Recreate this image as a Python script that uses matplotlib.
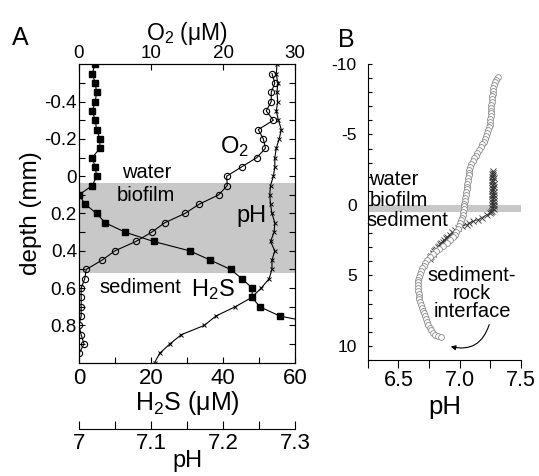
import numpy as np
import matplotlib
matplotlib.use("Agg")
import matplotlib.pyplot as plt
from matplotlib.ticker import MultipleLocator, FixedLocator

plt.rcParams["font.family"] = ["Liberation Sans", "DejaVu Sans"]
plt.rcParams["mathtext.fontset"] = "custom"
plt.rcParams["mathtext.rm"] = "Liberation Sans"
plt.rcParams["mathtext.it"] = "Liberation Sans:italic"
plt.rcParams["axes.unicode_minus"] = False

# ---- panel A: microprofiles (depth in mm) ----
h2s_depth = [-0.60, -0.55, -0.50, -0.45, -0.40, -0.35, -0.30, -0.25, -0.20, -0.15,
             -0.10, -0.05, 0.00, 0.05, 0.10, 0.15, 0.20, 0.25, 0.30, 0.35,
             0.40, 0.45, 0.50, 0.55, 0.60, 0.65, 0.70, 0.75, 0.80]
h2s = [4.4, 3.7, 4.5, 4.9, 4.5, 3.7, 4.5, 4.9, 5.8, 5.8,
       3.7, 4.5, 4.9, 3.7, 0.0, 1.7, 4.9, 7.3, 12.8, 20.7,
       30.7, 36.5, 42.1, 45.3, 48.1, 48.1, 50.2, 55.8, 69.0]

o2_depth = [-0.55, -0.50, -0.45, -0.40, -0.35, -0.30, -0.25, -0.20, -0.15, -0.10,
            -0.05, 0.00, 0.05, 0.10, 0.15, 0.20, 0.25, 0.30, 0.35, 0.40,
            0.45, 0.50, 0.55, 0.60, 0.65, 0.70, 0.75, 0.80, 0.85, 0.90, 0.95]
o2 = [26.8, 27.2, 26.7, 26.7, 26.0, 27.0, 24.9, 25.6, 25.9, 24.7,
      22.6, 20.5, 20.6, 19.4, 16.7, 14.7, 11.9, 10.1, 7.9, 5.0,
      3.2, 1.0, 0.8, 0.3, 0.3, 0.3, 0.3, 0.0, 0.3, 0.7, 0.0]

ph_depth = [-0.60, -0.55, -0.50, -0.45, -0.40, -0.35, -0.30, -0.25, -0.20, -0.15,
            -0.10, -0.05, 0.00, 0.05, 0.10, 0.15, 0.20, 0.25, 0.30, 0.35,
            0.40, 0.45, 0.50, 0.55, 0.60, 0.65, 0.70, 0.75, 0.80, 0.85,
            0.90, 0.95, 1.00]
ph = [7.275, 7.274, 7.276, 7.275, 7.276, 7.274, 7.277, 7.281, 7.278, 7.274,
      7.272, 7.272, 7.270, 7.266, 7.265, 7.266, 7.268, 7.272, 7.271, 7.266,
      7.272, 7.268, 7.268, 7.264, 7.253, 7.240, 7.217, 7.190, 7.174, 7.142,
      7.126, 7.112, 7.105]

biofilm_a = (0.035, 0.52)

# ---- panel B: pH profiles (depth in mm) ----
b_circ_depth = [-9.1, -8.9, -8.7, -8.5, -8.3, -8.1, -7.9, -7.7, -7.5, -7.3,
                -7.1, -6.9, -6.7, -6.5, -6.3, -6.1, -5.9, -5.7, -5.5, -5.3,
                -5.1, -4.9, -4.7, -4.5, -4.3, -4.1, -3.9, -3.7, -3.5, -3.3,
                -3.1, -2.9, -2.7, -2.5, -2.3, -2.1, -1.9, -1.7, -1.5, -1.3,
                -1.1, -0.9, -0.7, -0.5, -0.3, -0.1, 0.1, 0.3, 0.5, 0.7,
                0.9, 1.1, 1.3, 1.5, 1.7, 1.9, 2.1, 2.3, 2.5, 2.7,
                2.9, 3.1, 3.3, 3.5, 3.7, 3.9, 4.1, 4.3, 4.5, 4.7,
                4.9, 5.1, 5.3, 5.5, 5.7, 5.9, 6.1, 6.3, 6.5, 6.7,
                6.9, 7.1, 7.3, 7.5, 7.7, 7.9, 8.1, 8.3, 8.5, 8.7,
                8.9, 9.1, 9.2, 9.3, 9.4]
b_circ_ph = [7.31, 7.30, 7.29, 7.28, 7.275, 7.27, 7.268, 7.264, 7.262, 7.26,
             7.258, 7.256, 7.255, 7.254, 7.252, 7.25, 7.25, 7.245, 7.238, 7.23,
             7.222, 7.212, 7.203, 7.195, 7.186, 7.175, 7.16, 7.145, 7.133, 7.12,
             7.105, 7.095, 7.088, 7.08, 7.077, 7.074, 7.07, 7.067, 7.063, 7.06,
             7.056, 7.052, 7.048, 7.044, 7.041, 7.038, 7.036, 7.034, 7.031, 7.027,
             7.022, 7.012, 7.004, 6.995, 6.984, 6.972, 6.958, 6.945, 6.925, 6.895,
             6.865, 6.835, 6.81, 6.785, 6.76, 6.735, 6.72, 6.705, 6.692, 6.683,
             6.675, 6.668, 6.664, 6.662, 6.662, 6.663, 6.664, 6.666, 6.668, 6.672,
             6.676, 6.682, 6.69, 6.70, 6.71, 6.718, 6.726, 6.735, 6.744, 6.755,
             6.768, 6.785, 6.80, 6.82, 6.85]

b_x_depth = [-2.4, -2.3, -2.2, -2.1, -2.0, -1.9, -1.8, -1.7, -1.6, -1.5,
             -1.4, -1.3, -1.2, -1.1, -1.0, -0.9, -0.8, -0.7, -0.6, -0.5,
             -0.4, -0.3, -0.2, -0.1, 0.0, 0.1, 0.2, 0.3, 0.4, 0.5,
             0.55, 0.70, 0.90, 1.05, 1.16, 1.28, 1.39, 1.50, 1.63, 1.80,
             1.95, 2.10, 2.25, 2.35, 2.50, 2.60, 2.70, 2.80, 2.90, 3.00,
             3.10, 3.20, 3.30, 3.40, 3.50, 3.60, 3.70, 3.80]
b_x_ph = [7.268, 7.272, 7.264, 7.274, 7.266, 7.276, 7.265, 7.275, 7.264, 7.277,
          7.266, 7.276, 7.263, 7.275, 7.265, 7.278, 7.264, 7.276, 7.262, 7.277,
          7.265, 7.279, 7.262, 7.278, 7.264, 7.280, 7.260, 7.276, 7.262, 7.255,
          7.25, 7.22, 7.18, 7.15, 7.11, 7.08, 7.06, 7.02, 6.99, 6.96,
          6.94, 6.92, 6.90, 6.89, 6.87, 6.86, 6.85, 6.84, 6.83, 6.82,
          6.81, 6.80, 6.79, 6.785, 6.78, 6.77, 6.76, 6.755]

biofilm_b = (0.0, 0.5)

W, H = 539, 476
fig = plt.figure(figsize=(W / 100, H / 100), dpi=100)

# panel A
axA = fig.add_axes([79 / W, 1 - 362.7 / H, 216 / W, (362.7 - 64.3) / H])
axA.axhspan(*biofilm_a, color="#c8c8c8", lw=0, zorder=0)
axA.plot(h2s, h2s_depth, "k-", lw=0.8, marker="s", ms=4.5, zorder=3)
axA.set_xlim(0, 60)
axA.set_ylim(1.0, -0.6)
axA.xaxis.set_major_locator(FixedLocator([0, 20, 40, 60]))
axA.xaxis.set_minor_locator(FixedLocator([10, 30, 50]))
axA.set_yticks([-0.4, -0.2, 0, 0.2, 0.4, 0.6, 0.8])
axA.set_yticklabels(["-0.4", "-0.2", "0", "0.2", "0.4", "0.6", "0.8"])
axA.yaxis.set_minor_locator(FixedLocator([-0.5, -0.3, -0.1, 0.1, 0.3, 0.5, 0.7, 0.9]))
axA.tick_params(axis="both", which="both", direction="in", length=4, width=0.8,
                top=False, right=True)
axA.tick_params(axis="x", labelsize=16, pad=3.5)
axA.tick_params(axis="y", labelsize=13.5, pad=1.5)
axA.set_xlabel("H$_2$S (μM)", fontsize=18, labelpad=0)
axA.set_ylabel("depth (mm)", fontsize=17.5, labelpad=2)

axO = axA.twiny()
axO.plot(o2, o2_depth, "k-", lw=0.8, marker="o", ms=4.5, mfc="none", mew=0.8, zorder=3)
axO.set_xlim(0, 30)
axO.set_xticks([0, 10, 20, 30])
axO.tick_params(axis="x", direction="in", length=4, width=0.8, labelsize=13.5, pad=1.5)
axO.set_xlabel("O$_2$ (μM)", fontsize=16.5, labelpad=4)

axP = axA.twiny()
axP.plot(ph, ph_depth, "k-", lw=0.8, marker="x", ms=3.5, mew=0.7, zorder=3)
axP.set_xlim(7.0, 7.3)
for side in ["top", "left", "right"]:
    axP.spines[side].set_visible(False)
axP.spines["bottom"].set_visible(True)
axP.spines["bottom"].set_position(("axes", -0.223))
axP.xaxis.set_ticks_position("bottom")
axP.xaxis.set_label_position("bottom")
axP.set_xticks([7.0, 7.1, 7.2, 7.3])
axP.set_xticklabels(["7", "7.1", "7.2", "7.3"])
axP.xaxis.set_minor_locator(FixedLocator([7.05, 7.15, 7.25]))
axP.tick_params(axis="x", which="both", direction="in", length=5.5, width=0.8,
                labelsize=16, pad=2.5)
axP.set_xlabel("pH", fontsize=17, labelpad=-3)

axA.text(0.315, 0.639, "water", transform=axA.transAxes, fontsize=14.5, ha="center", va="center")
axA.text(0.31, 0.559, "biofilm", transform=axA.transAxes, fontsize=14.5, ha="center", va="center")
axA.text(0.282, 0.253, "sediment", transform=axA.transAxes, fontsize=14.5, ha="center", va="center")
axA.text(0.80, 0.49, "pH", transform=axA.transAxes, fontsize=17, ha="center", va="center")
axA.text(0.722, 0.726, "O$_2$", transform=axA.transAxes, fontsize=17, ha="center", va="center")
axA.text(0.62, 0.245, "H$_2$S", transform=axA.transAxes, fontsize=17, ha="center", va="center")
fig.text(20 / W, 1 - 38 / H, "A", fontsize=18, ha="center", va="center")

# panel B
axB = fig.add_axes([367.7 / W, 1 - 360 / H, 153.3 / W, 296 / H])
axB.axhspan(*biofilm_b, color="#c8c8c8", lw=0, zorder=0)
axB.plot(b_x_ph, b_x_depth, "-", color="#333333", lw=0.6, marker="x", ms=4,
         mew=0.6, zorder=2)
axB.plot(b_circ_ph, b_circ_depth, "o", ms=4.2, mfc="white", mec="#8a8a8a",
         mew=0.6, zorder=3)
axB.set_xlim(6.25, 7.5)
axB.set_ylim(11, -10)
axB.spines["top"].set_visible(False)
axB.spines["right"].set_visible(False)
axB.set_xticks([6.5, 7.0, 7.5])
axB.set_xticklabels(["6.5", "7.0", "7.5"])
axB.xaxis.set_minor_locator(FixedLocator([6.25, 6.75, 7.25]))
axB.set_yticks([-10, -5, 0, 5, 10])
axB.set_yticklabels(["-10", "-5", "0", "5", "10"])
axB.yaxis.set_minor_locator(MultipleLocator(1))
axB.tick_params(axis="x", which="both", direction="out", length=6, width=0.8,
                labelsize=15.5, pad=1)
axB.tick_params(axis="y", which="both", direction="in", length=3, width=0.8,
                labelsize=12.5, pad=8)
axB.set_xlabel("pH", fontsize=18.5, labelpad=3)

axB.text(0.01, 0.61, "water", transform=axB.transAxes, fontsize=14.5, ha="left", va="center")
axB.text(0.01, 0.54, "biofilm", transform=axB.transAxes, fontsize=14.5, ha="left", va="center")
axB.text(-0.01, 0.47, "sediment", transform=axB.transAxes, fontsize=14.5, ha="left", va="center")
axB.text(0.68, 0.225, "sediment-\nrock\ninterface", transform=axB.transAxes,
         fontsize=14.5, ha="center", va="center", linespacing=0.95)
axB.annotate("", xy=(6.905, 10.0), xytext=(7.247, 8.3),
             arrowprops=dict(arrowstyle="-|>", color="k", lw=0.8,
                             mutation_scale=7, connectionstyle="arc3,rad=-0.5"))
fig.text(346 / W, 1 - 40 / H, "B", fontsize=18, ha="center", va="center")

fig.savefig("out.png", dpi=100)
